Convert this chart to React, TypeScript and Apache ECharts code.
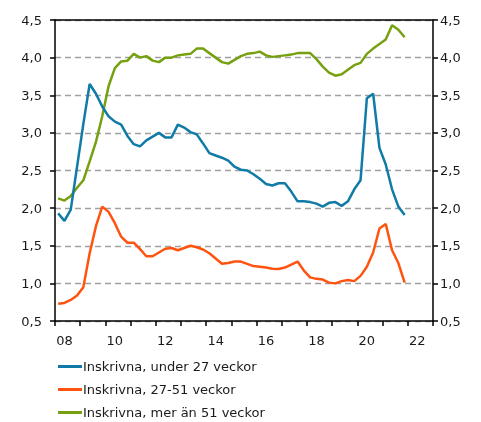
import React, { useEffect, useRef } from "react";
import * as echarts from "echarts";

const years = ["08", "09", "10", "11", "12", "13", "14", "15", "16", "17", "18", "19", "20", "21", "22"];
const quarters = ["K1", "K2", "K3", "K4"];
const yTicks = [0.5, 1.0, 1.5, 2.0, 2.5, 3.0, 3.5, 4.0, 4.5];

const seriesNames = [
  "Inskrivna, under 27 veckor",
  "Inskrivna, 27-51 veckor",
  "Inskrivna, mer än 51 veckor",
];

const under27 = [
  1.93, 1.83, 1.98, 2.55, 3.12, 3.65, 3.52, 3.35, 3.22, 3.15, 3.11, 2.96, 2.85, 2.82,
  2.9, 2.95, 3.0, 2.94, 2.94, 3.11, 3.07, 3.01, 2.98, 2.86, 2.73, 2.7, 2.67, 2.63,
  2.55, 2.51, 2.5, 2.45, 2.39, 2.32, 2.3, 2.33, 2.33, 2.22, 2.09, 2.09, 2.08, 2.06,
  2.02, 2.07, 2.08, 2.03, 2.09, 2.25, 2.37, 3.46, 3.52, 2.8, 2.58, 2.25, 2.02, 1.91,
];

const weeks27to51 = [
  0.73, 0.74, 0.78, 0.84, 0.95, 1.4, 1.76, 2.02, 1.95, 1.8, 1.62, 1.54, 1.54, 1.455,
  1.36, 1.36, 1.41, 1.46, 1.47, 1.44, 1.47, 1.5, 1.48, 1.45, 1.4, 1.33, 1.26, 1.27,
  1.29, 1.29, 1.26, 1.23, 1.22, 1.21, 1.195, 1.19, 1.21, 1.25, 1.29, 1.17, 1.08, 1.06,
  1.05, 1.01, 1.0, 1.03, 1.045, 1.03, 1.1, 1.22, 1.41, 1.73, 1.79, 1.44, 1.27, 1.01,
];

const over51 = [
  2.13, 2.1, 2.16, 2.27, 2.37, 2.62, 2.88, 3.22, 3.62, 3.86, 3.95, 3.96, 4.05, 4.0,
  4.02, 3.96, 3.94, 4.0, 4.0, 4.03, 4.04, 4.05, 4.12, 4.12, 4.06, 4.0, 3.94, 3.92,
  3.97, 4.02, 4.05, 4.06, 4.08, 4.03, 4.01, 4.02, 4.03, 4.04, 4.06, 4.06, 4.06, 3.98,
  3.88, 3.8, 3.76, 3.78, 3.84, 3.9, 3.93, 4.05, 4.12, 4.18, 4.24, 4.43, 4.37, 4.27,
];

const colors = ["#0f7ba6", "#ff5310", "#76a00f"];

const categories = years.flatMap((y) => quarters.map((q) => `${y} ${q}`));

const font = "DejaVu Sans, Verdana, sans-serif";
const fmt = (v: number) => v.toFixed(1).replace(".", ",");

export default function App() {
  const ref = useRef<HTMLDivElement>(null);
  useEffect(() => {
    if (!ref.current) return;
    const chart = echarts.init(ref.current, null, { renderer: "svg" });
    const yBase = {
      type: "value" as const,
      min: yTicks[0],
      max: yTicks[yTicks.length - 1],
      interval: 0.5,
      axisLine: { show: true, lineStyle: { color: "#000", width: 1.5 } },
      axisTick: { show: true, length: 5, lineStyle: { color: "#000", width: 1.5 } },
    };
    chart.setOption({
      animation: false,
      textStyle: { fontFamily: font },
      grid: { left: 55, right: 48, top: 20, bottom: 101, containLabel: false },
      legend: {
        orient: "vertical",
        left: 58,
        top: 359,
        height: 80,
        padding: 0,
        icon: "rect",
        itemWidth: 24,
        itemHeight: 3,
        itemGap: 8,
        textStyle: { fontFamily: font, fontSize: 13, lineHeight: 15, color: "#1a1a1a", padding: [0, 0, 0, -4] },
        data: seriesNames,
      },
      xAxis: [
        {
          type: "category",
          data: categories,
          boundaryGap: true,
          axisLine: { show: true, lineStyle: { color: "#000", width: 1.5 } },
          axisTick: { show: true, interval: 3, length: 5, lineStyle: { color: "#000", width: 1.5 } },
          axisLabel: {
            interval: (i: number) => i % 8 === 1,
            formatter: (v: string) => v.split(" ")[0],
            fontFamily: font,
            fontSize: 13,
            color: "#1a1a1a",
            margin: 13,
          },
          splitLine: { show: false },
        },
        {
          type: "category",
          data: categories,
          position: "top",
          axisLine: { show: true, lineStyle: { color: "#000", width: 1.5 } },
          axisTick: { show: false },
          axisLabel: { show: false },
        },
      ],
      yAxis: [
        {
          ...yBase,
          position: "left",
          axisLabel: { formatter: fmt, fontFamily: font, fontSize: 13, color: "#1a1a1a", margin: 13 },
          splitLine: { show: true, lineStyle: { color: "#a0a0a0", width: 1.3, type: [6, 4] } },
        },
        {
          ...yBase,
          position: "right",
          axisLabel: { formatter: fmt, fontFamily: font, fontSize: 13, color: "#1a1a1a", margin: 7 },
          splitLine: { show: false },
        },
      ],
      series: [under27, weeks27to51, over51].map((d, i) => ({
        name: seriesNames[i],
        type: "line",
        data: d,
        xAxisIndex: 0,
        yAxisIndex: 0,
        symbol: "none",
        lineStyle: { color: colors[i], width: 2.5 },
        itemStyle: { color: colors[i] },
        z: 3 - i,
      })),
    });
    return () => chart.dispose();
  }, []);
  return <div ref={ref} style={{ position: "fixed", left: 0, top: 0, width: 481, height: 422 }} />;
}
